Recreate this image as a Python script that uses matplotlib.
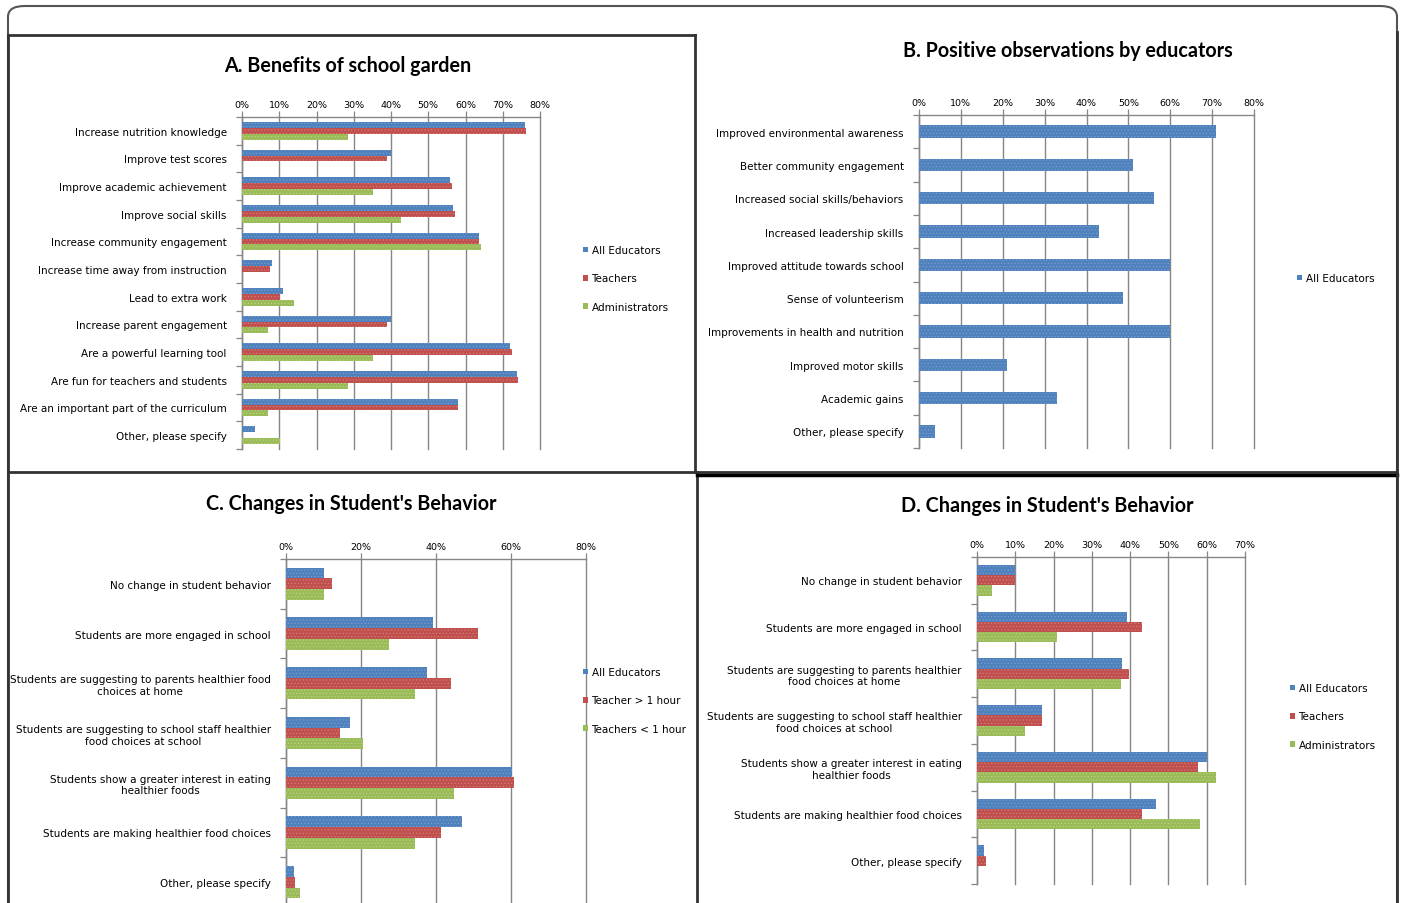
import matplotlib.pyplot as plt
from matplotlib.patches import Patch, FancyBboxPatch
from matplotlib.lines import Line2D

# ---- data ----
a_cats = ["Increase nutrition knowledge", "Improve test scores", "Improve academic achievement",
          "Improve social skills", "Increase community engagement", "Increase time away from instruction",
          "Lead to extra work", "Increase parent engagement", "Are a powerful learning tool",
          "Are fun for teachers and students", "Are an important part of the curriculum",
          "Other, please specify"]
a_all = [76.0, 40.0, 55.8, 56.7, 63.6, 8.0, 11.0, 40.0, 72.0, 73.7, 58.0, 3.6]
a_teach = [76.3, 38.8, 56.4, 57.2, 63.6, 7.5, 10.1, 38.8, 72.4, 74.2, 58.0, 0]
a_admin = [28.5, 0, 35.3, 42.8, 64.2, 0, 14.0, 7.1, 35.3, 28.5, 7.1, 10.1]

b_cats = ["Improved environmental awareness", "Better community engagement",
          "Increased social skills/behaviors", "Increased leadership skills",
          "Improved attitude towards school", "Sense of volunteerism",
          "Improvements in health and nutrition", "Improved motor skills", "Academic gains",
          "Other, please specify"]
b_all = [70.9, 51.2, 56.2, 43.0, 60.0, 48.8, 60.0, 21.0, 33.0, 3.9]

c_cats = ["No change in student behavior", "Students are more engaged in school",
          "Students are suggesting to parents healthier food\nchoices at home",
          "Students are suggesting to school staff healthier\nfood choices at school",
          "Students show a greater interest in eating\nhealthier foods",
          "Students are making healthier food choices", "Other, please specify"]
c_all = [10.1, 39.2, 37.7, 17.1, 60.2, 47.0, 2.0]
c_more = [12.3, 51.3, 44.0, 14.5, 60.8, 41.3, 2.3]
c_less = [10.1, 27.5, 34.4, 20.6, 44.8, 34.4, 3.6]

d_cats = ["No change in student behavior", "Students are more engaged in school",
          "Students are suggesting to parents healthier\nfood choices at home",
          "Students are suggesting to school staff healthier\nfood choices at school",
          "Students show a greater interest in eating\nhealthier foods",
          "Students are making healthier food choices", "Other, please specify"]
d_all = [10.0, 39.1, 37.9, 17.1, 60.2, 46.8, 1.8]
d_teach = [10.0, 43.0, 39.8, 17.1, 57.8, 43.0, 2.3]
d_admin = [3.9, 20.9, 37.5, 12.5, 62.5, 58.2, 0]

BLUE, RED, GREEN = "#4F81BD", "#C0504D", "#9BBB59"
HATCH = {BLUE: "#7FA3D3", RED: "#D98280", GREEN: "#BCD68A"}
GRID = "#868686"

plt.rcParams['hatch.linewidth'] = 0.4

W, H = 1402, 904
fig = plt.figure(figsize=(W / 100, H / 100), dpi=100)


def box(left, top, right, bottom):
    return [left / W, 1 - bottom / H, (right - left) / W, (bottom - top) / H]


def panel(rect, cats, series, xmax, xstep, group, title, title_xy, legend_labels, legend_xy):
    ax = fig.add_axes(rect)
    n = len(cats)
    ns = len(series)
    h = group / ns
    for i, (vals, col) in enumerate(series):
        off = (i - (ns - 1) / 2) * h
        ax.barh([k + off for k in range(n)], vals, height=h, color=col,
                edgecolor=HATCH[col], linewidth=0, hatch='.....', zorder=3)
    ax.set_ylim(n - 0.5, -0.5)
    ax.set_xlim(0, xmax)
    ticks = list(range(0, xmax + 1, xstep))
    ax.set_xticks(ticks, [f"{t}%" for t in ticks])
    ax.xaxis.tick_top()
    ax.tick_params(axis='x', length=4, width=0.9, color=GRID, labelsize=6.8, pad=2)
    ax.set_yticks(range(n), cats)
    ax.set_yticks([k - 0.5 for k in range(n + 1)], minor=True)
    ax.tick_params(axis='y', which='major', length=0, labelsize=7.5, pad=11)
    ax.tick_params(axis='y', which='minor', length=4, width=0.9, color=GRID)
    for lab in ax.get_yticklabels():
        lab.set_multialignment('center')
    ax.grid(axis='x', color=GRID, linewidth=1.0, zorder=0)
    for gl in ax.get_xgridlines():
        gl.set_clip_on(False)
    for s in ['right', 'bottom']:
        ax.spines[s].set_visible(False)
    for s in ['left', 'top']:
        ax.spines[s].set_color(GRID)
        ax.spines[s].set_linewidth(1.0)
    fig.text(title_xy[0] / W, 1 - title_xy[1] / H, title, ha='center', va='center',
             fontsize=14.2, fontweight='bold', family='Lato')
    handles = [Patch(facecolor=col, edgecolor='none') for _, col in series]
    fig.legend(handles, legend_labels, loc='upper left',
               bbox_to_anchor=(legend_xy[0] / W, 1 - legend_xy[1] / H),
               frameon=False, fontsize=7.5, handlelength=0.5, handleheight=0.5,
               handletextpad=0.3, labelspacing=1.75, borderpad=0)
    return ax


panel(box(242, 118, 540, 450), a_cats,
      [(a_all, BLUE), (a_teach, RED), (a_admin, GREEN)], 80, 10, 0.64,
      "A. Benefits of school garden", (348, 66),
      ["All Educators", "Teachers", "Administrators"], (578, 241))

panel(box(919, 116, 1254, 449), b_cats, [(b_all, BLUE)], 80, 10, 0.37,
      "B. Positive observations by educators", (1068, 51),
      ["All Educators"], (1292, 269))

panel(box(286, 560, 586, 908), c_cats,
      [(c_all, BLUE), (c_more, RED), (c_less, GREEN)], 80, 20, 0.65,
      "C. Changes in Student's Behavior", (351, 504),
      ["All Educators", "Teacher > 1 hour", "Teachers < 1 hour"], (578, 663))

panel(box(977, 558, 1245, 885), d_cats,
      [(d_all, BLUE), (d_teach, RED), (d_admin, GREEN)], 70, 10, 0.66,
      "D. Changes in Student's Behavior", (1047, 506),
      ["All Educators", "Teachers", "Administrators"], (1285, 679))

# ---- frames ----
fig.add_artist(FancyBboxPatch((8 / W, -0.05), 1389 / W, (H - 7) / H + 0.05,
                              boxstyle="round,pad=0,rounding_size=0.012",
                              transform=fig.transFigure, fill=False,
                              edgecolor="#555555", linewidth=1.5))


def line(x0, y0, x1, y1, color="#333333", lw=2.0):
    fig.add_artist(Line2D([x0 / W, x1 / W], [1 - y0 / H, 1 - y1 / H],
                          transform=fig.transFigure, color=color, linewidth=lw))


line(8, 36, 695, 36)
line(8, 36, 8, H)
line(695, 36, 695, 473)
line(8, 473, 697, 473)
line(1397, 33, 1397, 473)
line(695, 473, 1397, 473)
line(697, 476, 697, H)
line(697, 476, 1397, 476, color="black", lw=2.5)
line(1397, 476, 1397, H)

fig.savefig("out.png", dpi=100)
